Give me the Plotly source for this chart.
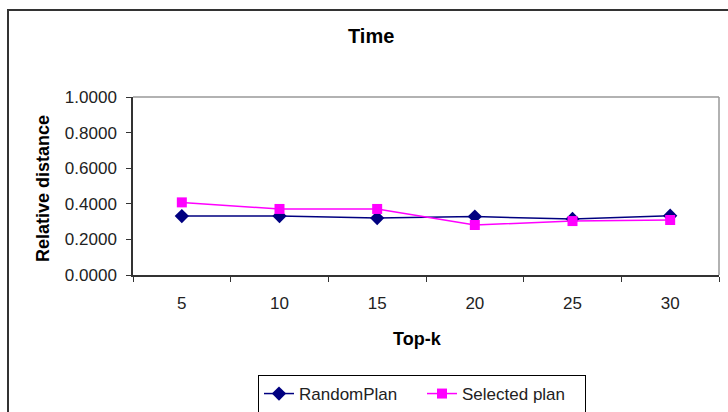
import plotly.graph_objects as go

categories = ["5", "10", "15", "20", "25", "30"]
random_plan = [0.331, 0.331, 0.320, 0.328, 0.315, 0.333]
selected_plan = [0.408, 0.371, 0.371, 0.281, 0.303, 0.309]
y_ticks = [0.0, 0.2, 0.4, 0.6, 0.8, 1.0]

W, H = 728, 412
FONT = "Liberation Sans, Arial, sans-serif"

fig = go.Figure()
fig.add_trace(go.Scatter(
    x=categories, y=random_plan, name="RandomPlan", mode="lines+markers",
    line=dict(color="#000080", width=1.5),
    marker=dict(symbol="diamond", size=11, color="#000080"),
))
fig.add_trace(go.Scatter(
    x=categories, y=selected_plan, name="Selected plan", mode="lines+markers",
    line=dict(color="#FF00FF", width=1.5),
    marker=dict(symbol="square", size=10, color="#FF00FF"),
))

x0, x1 = 133, 719
y0, y1 = 97, 275

fig.update_layout(
    width=W, height=H,
    margin=dict(l=0, r=0, t=0, b=0, autoexpand=False),
    paper_bgcolor="white", plot_bgcolor="white",
    font=dict(family=FONT, size=17, color="#222"),
    showlegend=True,
    legend=dict(
        orientation="h", x=258 / W, y=1 - 375 / H, xanchor="left", yanchor="top",
        bordercolor="black", borderwidth=1, bgcolor="white",
        font=dict(family=FONT, size=17, color="#222"),
        tracegroupgap=0, entrywidth=118, entrywidthmode="pixels",
    ),
    xaxis=dict(
        domain=[x0 / W, x1 / W], type="category", range=[-0.5, 5.5],
        tickson="boundaries", ticks="outside", ticklen=5, tickcolor="#333",
        showline=True, linecolor="#333", linewidth=1.5, mirror=False,
        showgrid=False, zeroline=False, fixedrange=True, automargin=False,
        ticklabelstandoff=12,
        tickfont=dict(family=FONT, size=17, color="#222"),
    ),
    yaxis=dict(
        domain=[1 - y1 / H, 1 - y0 / H], range=[0, 1],
        tickvals=y_ticks, tickformat=".4f", ticks="outside", ticklen=5, tickcolor="#333",
        showline=True, linecolor="#333", linewidth=1.5, automargin=False,
        showgrid=False, zeroline=False, ticklabelstandoff=6,
        tickfont=dict(family=FONT, size=17, color="#222"),
    ),
    shapes=[
        # outer chart border
        dict(type="rect", xref="paper", yref="paper",
             x0=8 / W, x1=1.05, y0=-0.05, y1=1 - 10 / H,
             line=dict(color="#333", width=2), layer="below"),
        # plot area top and right borders
        dict(type="line", xref="paper", yref="paper",
             x0=x0 / W, x1=x1 / W, y0=1 - y0 / H, y1=1 - y0 / H,
             line=dict(color="#999", width=1.5)),
        dict(type="line", xref="paper", yref="paper",
             x0=x1 / W, x1=x1 / W, y0=1 - y0 / H, y1=1 - y1 / H,
             line=dict(color="#999", width=1.5)),
    ],
    annotations=[
        dict(text="<b>Time</b>", xref="paper", yref="paper",
             x=371 / W, y=1 - 36 / H, showarrow=False,
             xanchor="center", yanchor="middle",
             font=dict(family=FONT, size=20, color="black")),
        dict(text="<b>Relative distance</b>", xref="paper", yref="paper",
             x=43 / W, y=1 - 189 / H, showarrow=False, textangle=-90,
             xanchor="center", yanchor="middle",
             font=dict(family=FONT, size=18, color="black")),
        dict(text="<b>Top-k</b>", xref="paper", yref="paper",
             x=418 / W, y=1 - 339 / H, showarrow=False,
             xanchor="center", yanchor="middle",
             font=dict(family=FONT, size=18, color="black")),
    ],
)

fig.write_html("out.html")
